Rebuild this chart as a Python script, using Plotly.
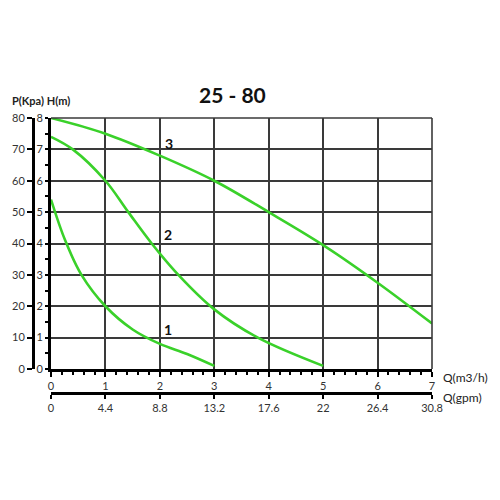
import plotly.graph_objects as go

# Data
curve1_q = [0, 0.26, 0.56, 1, 1.5, 2, 2.5, 3]
curve1_p = [54, 41, 30, 20, 12.6, 8, 4.8, 1]
curve2_q = [0, 0.4, 1, 1.42, 1.85, 2.34, 3, 3.8, 5]
curve2_p = [74, 70, 60, 50, 40, 30, 19, 10, 1]
curve3_q = [0, 1, 2, 3, 4, 5, 6, 7]
curve3_p = [80, 75, 68, 60, 50, 39.5, 27.5, 14.5]
curve_names = ["1", "2", "3"]
label_pos_q = [2.15, 2.15, 2.17]
label_pos_p = [12.6, 43, 72]
gpm_ticks = [0, 4.4, 8.8, 13.2, 17.6, 22, 26.4, 30.8]
gpm_labels = ["0", "4.4", "8.8", "13.2", "17.6", "22", "26.4", "30.8"]
title_text = "25 - 80"

FONT = "Lato"
GREEN = "#3ad12a"
GRID = "#3a3a3a"

# page has an 8px body margin; paper spans screen x 20..460, y 80..420
def fx(px):
    return (px - 20) / 440

def fy(py):
    return (420 - py) / 340

fig = go.Figure()
for q, p in [(curve1_q, curve1_p), (curve2_q, curve2_p), (curve3_q, curve3_p)]:
    fig.add_trace(go.Scatter(x=q, y=p, mode="lines", xaxis="x", yaxis="y",
                             line=dict(color=GREEN, width=2.6, shape="spline", smoothing=1.0),
                             showlegend=False, hoverinfo="skip"))

# invisible helper traces so the secondary axes (gpm, m) are drawn
fig.add_trace(go.Scatter(x=[gpm_ticks[0], gpm_ticks[-1]], y=[0, 0], xaxis="x2", yaxis="y",
                         mode="markers", marker=dict(opacity=0), showlegend=False, hoverinfo="skip"))
fig.add_trace(go.Scatter(x=[0, 7], y=[0, 8], xaxis="x", yaxis="y2",
                         mode="markers", marker=dict(opacity=0), showlegend=False, hoverinfo="skip"))

for name, q, p in zip(curve_names, label_pos_q, label_pos_p):
    fig.add_annotation(x=q, y=p, xref="x", yref="y", text="<b>%s</b>" % name, showarrow=False,
                       xanchor="center", yanchor="middle",
                       font=dict(family=FONT, size=14, color="#111"))

xdom = [fx(51), fx(432)]
ydom = [fy(369), fy(118)]

tickfont = dict(family=FONT, size=11, color="#333")

fig.update_layout(
    width=500, height=500,
    margin=dict(l=12, r=48, t=72, b=88),
    paper_bgcolor="white", plot_bgcolor="white",
    xaxis=dict(domain=xdom, range=[0, 7], anchor="y", dtick=1, showline=True, linecolor="black",
               linewidth=3, ticks="outside", ticklen=5, tickwidth=2, tickcolor="black",
               minor=dict(dtick=0.2, ticks="outside", ticklen=3, tickwidth=1.5, tickcolor="black", showgrid=False),
               showgrid=True, gridcolor=GRID, gridwidth=1.6, zeroline=False, tickfont=tickfont,
               automargin=False),
    xaxis2=dict(overlaying="x", anchor="free", position=fy(393), range=[0, 30.8],
                tickvals=gpm_ticks, ticktext=gpm_labels, showline=True, linecolor="black",
                linewidth=3, ticks="outside", ticklen=4, tickwidth=2, tickcolor="black",
                showgrid=False, zeroline=False, tickfont=tickfont, automargin=False),
    yaxis=dict(domain=ydom, range=[0, 80], anchor="free", position=fx(33), dtick=10,
               showline=True, linecolor="black", linewidth=3, ticks="outside", ticklen=5,
               tickwidth=2, tickcolor="black", showgrid=True, gridcolor=GRID, gridwidth=1.6,
               zeroline=False, tickfont=tickfont, automargin=False),
    yaxis2=dict(overlaying="y", anchor="x", side="left", range=[0, 8], dtick=1, showline=True,
                linecolor="black", linewidth=3, ticks="outside", ticklen=3, tickwidth=2,
                tickcolor="black",
                minor=dict(dtick=0.5, ticks="outside", ticklen=3, tickwidth=1.5, tickcolor="black", showgrid=False),
                showgrid=False, zeroline=False, tickfont=tickfont, automargin=False),
)

# top and right plot border
fig.add_shape(type="line", xref="x domain", yref="y domain", x0=0, x1=1, y0=1, y1=1,
              line=dict(color=GRID, width=1.6))
fig.add_shape(type="line", xref="x domain", yref="y domain", x0=1, x1=1, y0=0, y1=1,
              line=dict(color=GRID, width=1.6))

fig.add_annotation(text="<b>%s</b>" % title_text, xref="paper", yref="paper",
                   x=fx(232), y=fy(95), showarrow=False, xanchor="center", yanchor="middle",
                   font=dict(family=FONT, size=21, color="#111"))
fig.add_annotation(text="<b>P(Kpa) H(m)</b>", xref="paper", yref="paper",
                   x=fx(10), y=fy(100), showarrow=False, xanchor="left", yanchor="middle",
                   font=dict(family=FONT, size=11, color="#222"))
fig.add_annotation(text="Q(m3/h)", xref="paper", yref="paper", xanchor="left", yanchor="middle",
                   x=fx(441), y=fy(377), showarrow=False,
                   font=dict(family=FONT, size=12, color="#222"))
fig.add_annotation(text="Q(gpm)", xref="paper", yref="paper", xanchor="left", yanchor="middle",
                   x=fx(441), y=fy(397), showarrow=False,
                   font=dict(family=FONT, size=12, color="#222"))

fig.write_html("out.html")
